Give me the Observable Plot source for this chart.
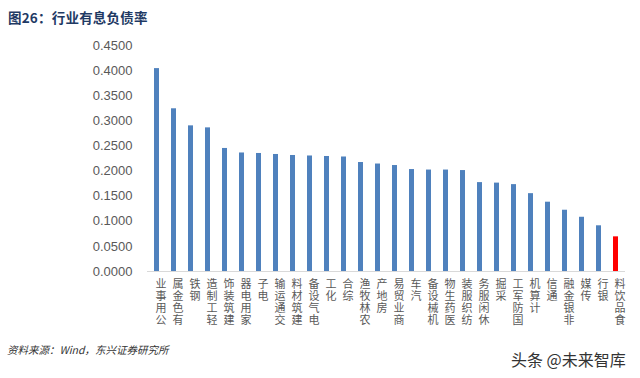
<!DOCTYPE html>
<html>
<head>
<meta charset="utf-8">
<script src="https://cdn.jsdelivr.net/npm/d3@7"></script>
<script src="https://cdn.jsdelivr.net/npm/@observablehq/plot@0.6"></script>
<style>
  body { margin: 0; background: #fff; }
  #wrap { position: relative; width: 640px; height: 378px; overflow: hidden; font-family: "Liberation Sans", Arial, sans-serif; }
  #title { position: absolute; left: 8px; top: 7px; font: bold 13.5px "Noto Sans CJK SC", sans-serif; color: #1f3a64; letter-spacing: 0.2px; }
  #source { position: absolute; left: 7px; top: 342px; font: italic 10.5px "Noto Sans CJK SC", sans-serif; color: #333; }
  #mark { position: absolute; left: 511px; top: 347px; font: 16px "Noto Sans CJK SC", sans-serif; color: #333; }
  #chart { position: absolute; left: 0; top: 0; }
</style>
</head>
<body>
<div id="wrap">
  <div id="chart"></div>
  <div id="title">图26：行业有息负债率</div>
  <div id="source">资料来源：Wind，东兴证券研究所</div>
  <div id="mark">头条 @未来智库</div>
</div>
<script>
const industries = ["公用事业","有色金属","钢铁","轻工制造","建筑装饰","家用电器","电子","交通运输","建筑材料","电气设备","化工","综合","农林牧渔","房地产","商业贸易","汽车","机械设备","医药生物","纺织服装","休闲服务","采掘","国防军工","计算机","通信","非银金融","传媒","银行","食品饮料"];
const ratios = [0.404,0.324,0.290,0.286,0.245,0.236,0.235,0.233,0.231,0.230,0.229,0.228,0.217,0.214,0.211,0.203,0.202,0.202,0.201,0.177,0.176,0.173,0.155,0.138,0.122,0.108,0.091,0.069];
const highlight = "食品饮料";
const yTicks = [0,0.05,0.1,0.15,0.2,0.25,0.3,0.35,0.4,0.45];

const data = industries.map((name, i) => ({name, value: ratios[i], chars: [...name].reverse()}));

// vertical, upright-character category labels: one text mark per character row
const labelMarks = [0, 1, 2, 3].map(k =>
  Plot.text(data.filter(d => d.chars.length > k), {
    x: "name", y: 0,
    text: d => d.chars[k],
    lineAnchor: "top", dy: 9 + k * 12, dx: 4,
    fontSize: 11, fill: "#595959",
    fontFamily: "'Noto Sans CJK SC', sans-serif"
  })
);

const chart = Plot.plot({
  width: 640,
  height: 378,
  marginTop: 45,
  marginBottom: 107,
  marginLeft: 147,
  marginRight: 15,
  style: {fontFamily: "'Liberation Sans', Arial, sans-serif", background: "transparent"},
  x: {domain: industries, paddingInner: 0.68, paddingOuter: 0.34, axis: null},
  y: {domain: [0, 0.45], ticks: yTicks, tickFormat: d3.format(".4f"), label: null},
  marks: [
    Plot.axisY({ticks: yTicks, tickFormat: d3.format(".4f"), tickSize: 0, tickPadding: 15, fontSize: 13, color: "#595959", label: null}),
    Plot.barY(data, {x: "name", y: "value", fill: d => d.name === highlight ? "#ff0000" : "#4f81bd"}),
    Plot.ruleY([0], {stroke: "#d9d9d9", strokeWidth: 1}),
    ...labelMarks
  ]
});
document.getElementById("chart").appendChild(chart);
</script>
</body>
</html>
